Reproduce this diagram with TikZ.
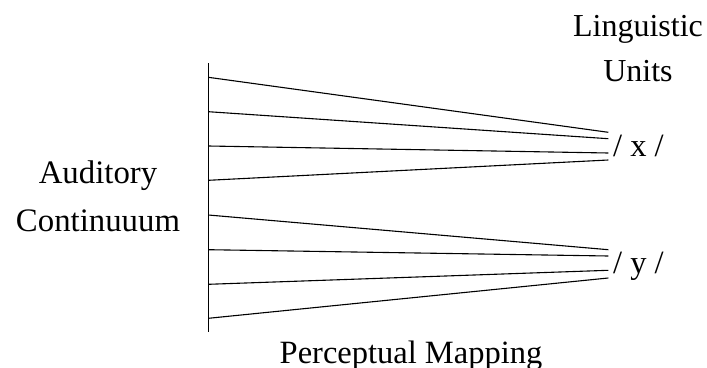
\documentclass[tikz,border=0pt]{standalone}
\usepackage{fontspec}
\setmainfont{Liberation Serif}
\begin{document}
\begin{tikzpicture}[x=1pt,y=-1pt,
  link/.style={line width=1.1pt},
  axis/.style={line width=1.1pt},
  lbl/.style={inner sep=0pt,font=\fontsize{32.5}{45}\selectfont,align=center},
  unit/.style={inner sep=0pt,font=\fontsize{32.5}{36}\selectfont,anchor=base west}]
\useasboundingbox (0,0) rectangle (707,367);
% axis
\coordinate (top) at (208.3,63.3);
\coordinate (bot) at (208.3,332);
\draw[axis] (top) -- (bot);
% left points
\foreach \i/\y in {1/77.3,2/111.7,3/146,4/180.3,5/215,6/249.7,7/284.3,8/318.3}
  \coordinate (L\i) at (208.3,\y);
% right points
\foreach \i/\y in {1/132.3,2/138.7,3/153,4/160,5/249.7,6/256,7/270.3,8/278}
  \coordinate (R\i) at (608.3,\y);
\foreach \i in {1,...,8}
  \draw[link] (L\i) -- (R\i);
% labels
\node[unit] (x) at (613,156) {/ x /};
\node[unit] (yy) at (613,273.3) {/ y /};
\node[lbl,font=\fontsize{32.8}{48}\selectfont] (aud) at (98,196.5) {Auditory\\Continuuum};
\node[lbl,font=\fontsize{32}{45}\selectfont] (ling) at (638,48.6) {Linguistic\\Units};
\node[lbl,anchor=base] (perc) at (411,363.3) {Perceptual Mapping};
\end{tikzpicture}
\end{document}
